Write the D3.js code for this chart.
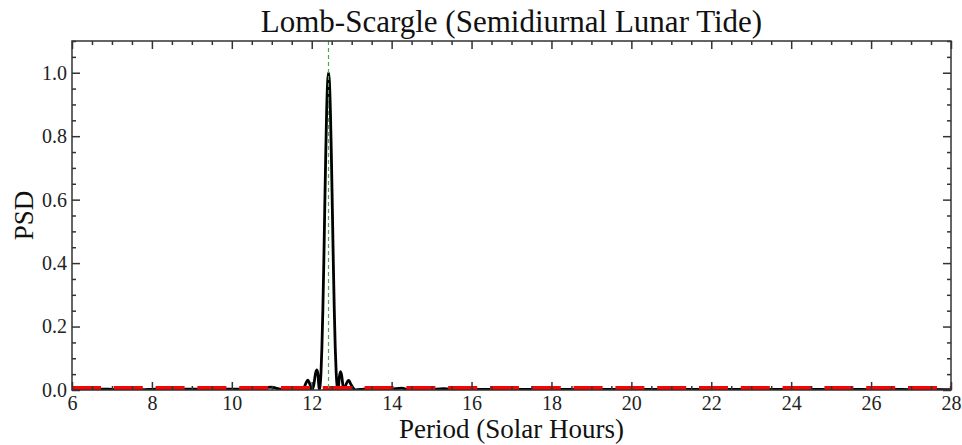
<!DOCTYPE html>
<html>
<head>
<meta charset="utf-8">
<script src="https://cdn.jsdelivr.net/npm/d3@7"></script>
<style>
  html, body { margin: 0; padding: 0; background: #fff; }
  svg { display: block; }
  svg text { font-family: "Liberation Serif", "Times New Roman", serif !important; }
</style>
</head>
<body>
<svg id="chart" width="962" height="445"></svg>
<script>
// Lomb-Scargle periodogram sampled along the period axis (solar hours)
const periods = [
  6.0, 6.25, 6.5, 6.75, 7.0, 7.25, 7.5, 7.75, 8.0, 8.25, 8.5, 8.75, 9.0, 9.25, 9.5, 9.75,
  10.0, 10.25, 10.5, 10.75, 10.9, 11.0, 11.1, 11.25, 11.4, 11.5, 11.6, 11.7, 11.8,
  11.85, 11.9, 11.95, 12.0, 12.05, 12.1, 12.13, 12.16, 12.185,
  12.208, 12.232, 12.255, 12.279, 12.303, 12.326, 12.35, 12.373, 12.397, 12.42,
  12.444, 12.468, 12.492, 12.516, 12.54, 12.564, 12.588, 12.612, 12.636, 12.66,
  12.69, 12.72, 12.75, 12.8, 12.85, 12.9, 12.93, 12.97, 13.05, 13.1,
  13.3, 13.5, 13.75, 14.0, 14.25, 14.4, 14.6, 15.0, 15.3, 15.6, 16.0, 16.5, 17.0,
  17.5, 18.0, 18.5, 19.0, 19.5, 20.0, 20.5, 21.0, 21.5, 22.0, 22.5, 23.0, 23.5,
  24.0, 24.5, 25.0, 25.5, 26.0, 26.5, 27.0, 27.5, 28.0
];
const psdValues = [
  0.002, 0.001, 0.002, 0.003, 0.002, 0.001, 0.002, 0.001, 0.002, 0.003, 0.001, 0.002, 0.003, 0.002, 0.001, 0.002,
  0.003, 0.002, 0.001, 0.004, 0.008, 0.009, 0.006, 0.002, 0.005, 0.007, 0.003, 0.001, 0.006,
  0.02, 0.031, 0.02, 0.0, 0.015, 0.055, 0.063, 0.045, 0.0,
  0.012, 0.055, 0.135, 0.255, 0.405, 0.573, 0.737, 0.875, 0.968, 1.0,
  0.968, 0.875, 0.737, 0.573, 0.405, 0.255, 0.135, 0.055, 0.012, 0.0,
  0.04, 0.058, 0.045, 0.0, 0.015, 0.028, 0.03, 0.02, 0.004, 0.0,
  0.003, 0.004, 0.002, 0.003, 0.006, 0.002, 0.001, 0.002, 0.004, 0.002, 0.001, 0.002, 0.001,
  0.002, 0.001, 0.002, 0.001, 0.002, 0.001, 0.002, 0.001, 0.002, 0.001, 0.002, 0.001, 0.002,
  0.001, 0.002, 0.001, 0.002, 0.001, 0.002, 0.001, 0.002, 0.001
];

// Reference levels
const m2Period = 12.42;          // principal lunar semidiurnal period
const thresholdLevel = 0.005;    // dashed red level

// Axis ticks
const xMajorTicks = [6, 8, 10, 12, 14, 16, 18, 20, 22, 24, 26, 28];
const yMajorTicks = [0.0, 0.2, 0.4, 0.6, 0.8, 1.0];
const xDomain = [6, 28];
const yDomain = [0, 1.1];

const titleText = "Lomb-Scargle (Semidiurnal Lunar Tide)";
const xLabelText = "Period (Solar Hours)";
const yLabelText = "PSD";

const serif = '"Liberation Serif", "Times New Roman", serif';
const margin = { top: 41, right: 11, bottom: 55, left: 72 };
const W = 962, H = 445;
const iw = W - margin.left - margin.right;
const ih = H - margin.top - margin.bottom;

const svg = d3.select("#chart");
const g = svg.append("g").attr("transform", `translate(${margin.left},${margin.top})`);

const x = d3.scaleLinear().domain(xDomain).range([0, iw]);
const y = d3.scaleLinear().domain(yDomain).range([ih, 0]);

const xMinorTicks = d3.range(xDomain[0], xDomain[1] + 0.001, 0.5).filter(v => Math.abs(v / 2 - Math.round(v / 2)) > 1e-6);
const yMinorTicks = d3.range(0, 1.1001, 0.05).filter(v => Math.abs(v / 0.2 - Math.round(v / 0.2)) > 1e-6);

g.append("defs").append("clipPath").attr("id", "plotClip")
  .append("rect").attr("width", iw).attr("height", ih);

const plot = g.append("g").attr("clip-path", "url(#plotClip)");

// Periodogram curve
const series = periods.map((p, i) => ({ p, v: psdValues[i] }));
const line = d3.line().x(d => x(d.p)).y(d => y(d.v)).curve(d3.curveMonotoneX);
plot.append("path")
  .datum(series)
  .attr("fill", "none")
  .attr("stroke", "#000")
  .attr("stroke-width", 2.8)
  .attr("stroke-linejoin", "round")
  .attr("d", line);

// Dashed red level line
plot.append("line")
  .attr("x1", x(xDomain[0])).attr("x2", x(xDomain[1]))
  .attr("y1", y(thresholdLevel)).attr("y2", y(thresholdLevel))
  .attr("stroke", "#ff0000")
  .attr("stroke-width", 5)
  .attr("stroke-dasharray", "29,12.8");

// Vertical marker at the M2 period
plot.append("line")
  .attr("x1", x(m2Period)).attr("x2", x(m2Period))
  .attr("y1", 0).attr("y2", ih)
  .attr("stroke", "#4da84d")
  .attr("stroke-width", 1.2)
  .attr("stroke-dasharray", "4,3");

// Axes with inward ticks on all four sides
function styleAxis(sel) {
  sel.attr("font-family", null).attr("font-size", 20);
  sel.select(".domain").remove();
  sel.selectAll(".tick line").attr("stroke", "#333").attr("stroke-width", 1.5);
  sel.selectAll(".tick text")
    .attr("fill", "#222")
    .style("font-family", serif)
    .style("font-size", "20px");
}

g.append("g").attr("transform", `translate(0,${ih})`)
  .call(d3.axisBottom(x).tickValues(xMajorTicks).tickSize(-8).tickPadding(6).tickFormat(d3.format("d")))
  .call(styleAxis);
g.append("g").attr("transform", `translate(0,${ih})`)
  .call(d3.axisBottom(x).tickValues(xMinorTicks).tickSize(-4).tickFormat(""))
  .call(styleAxis);
g.append("g")
  .call(d3.axisTop(x).tickValues(xMajorTicks).tickSize(-8).tickFormat(""))
  .call(styleAxis);
g.append("g")
  .call(d3.axisTop(x).tickValues(xMinorTicks).tickSize(-4).tickFormat(""))
  .call(styleAxis);

g.append("g")
  .call(d3.axisLeft(y).tickValues(yMajorTicks).tickSize(-8).tickPadding(5).tickFormat(d3.format(".1f")))
  .call(styleAxis);
g.append("g")
  .call(d3.axisLeft(y).tickValues(yMinorTicks).tickSize(-4).tickFormat(""))
  .call(styleAxis);
g.append("g").attr("transform", `translate(${iw},0)`)
  .call(d3.axisRight(y).tickValues(yMajorTicks).tickSize(-8).tickFormat(""))
  .call(styleAxis);
g.append("g").attr("transform", `translate(${iw},0)`)
  .call(d3.axisRight(y).tickValues(yMinorTicks).tickSize(-4).tickFormat(""))
  .call(styleAxis);

// Frame
g.append("rect")
  .attr("width", iw).attr("height", ih)
  .attr("fill", "none")
  .attr("stroke", "#333")
  .attr("stroke-width", 1.5);

// Titles
svg.append("text")
  .attr("x", margin.left + iw / 2).attr("y", 32)
  .attr("text-anchor", "middle")
  .attr("font-size", 31)
  .attr("fill", "#111")
  .text(titleText);

svg.append("text")
  .attr("x", margin.left + iw / 2).attr("y", 438)
  .attr("text-anchor", "middle")
  .attr("font-size", 27)
  .attr("fill", "#111")
  .text(xLabelText);

svg.append("text")
  .attr("transform", `translate(33,${margin.top + ih / 2}) rotate(-90)`)
  .attr("text-anchor", "middle")
  .attr("font-size", 27)
  .attr("fill", "#111")
  .text(yLabelText);
</script>
</body>
</html>
